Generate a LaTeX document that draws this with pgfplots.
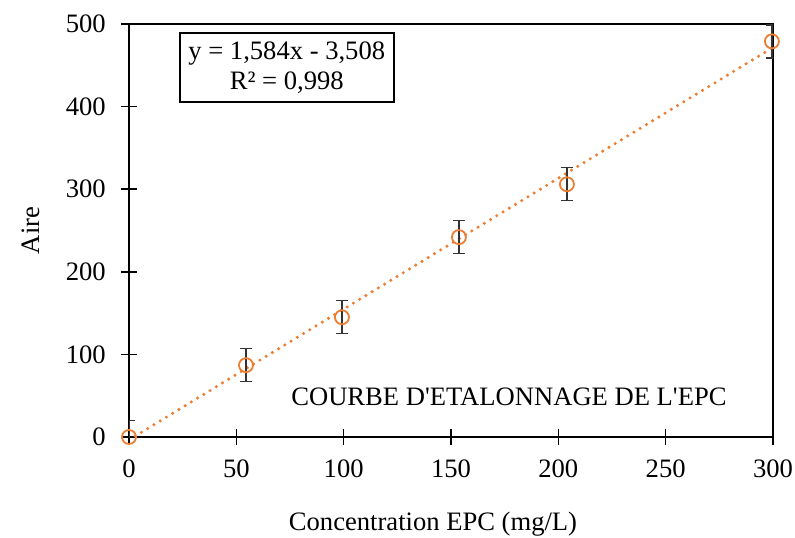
\documentclass[border=0pt]{standalone}
\usepackage{fontspec}
\setmainfont{Liberation Serif}
\usepackage{pgfplots}
\pgfplotsset{compat=1.18}
\definecolor{xlorange}{HTML}{ED7D31}
\begin{document}
\fontsize{13.3}{16}\selectfont
\begin{tikzpicture}
\path[use as bounding box] (-64.5pt,-50pt) rectangle (333pt,218.5pt);
\begin{axis}[
  at={(0pt,0pt)}, anchor=south west,
  scale only axis, width=322pt, height=206.5pt,
  xmin=0, xmax=300, ymin=0, ymax=500,
  xtick={0,50,...,300}, ytick={0,100,...,500},
  xtick pos=bottom, ytick pos=left,
  xtick align=center, ytick align=center, major tick length=8pt,
  tick style={black, line width=0.8pt},
  axis line style={black, line width=0.9pt},
  /pgf/number format/assume math mode=true,
  ticklabel style={font=\fontsize{13.3}{16}\selectfont},
  xticklabel style={yshift=-3pt},
  yticklabel style={xshift=-3pt},
  xlabel={Concentration EPC (mg/L)},
  ylabel={Aire},
  label style={font=\fontsize{13.3}{16}\selectfont},
  xlabel style={yshift=-8pt, xshift=-9pt},
  ylabel style={yshift=4pt},
  clip=true,
]
\addplot[xlorange, line width=1.7pt, line cap=round, dash pattern=on 0pt off 3.65pt, forget plot]
  coordinates {(0,-3.508) (300,471.692)};
\addplot[xlorange, only marks, mark=o, mark size=3.5pt, mark options={line width=0.9pt},
  error bars/.cd, y dir=both, y explicit,
  error bar style={black!80, line width=0.7pt},
  error mark options={rotate=90, mark size=3pt, black!80, line width=0.7pt}]
  coordinates {
    (0,0) +- (0,20)
    (54.5,87) +- (0,20)
    (99.2,145) +- (0,20)
    (153.7,242) +- (0,20)
    (204,306) +- (0,20)
    (299.5,479) +- (0,20)
  };
\node[draw=black, line width=0.8pt, fill=white, align=center, inner sep=2pt,
  minimum width=107pt, minimum height=34.5pt, font=\fontsize{13.3}{15}\selectfont]
  at (rel axis cs:0.245,0.895) {y = 1,584x - 3,508\\R² = 0,998};
\node[font=\fontsize{13.3}{16}\selectfont] at (rel axis cs:0.59,0.097) {COURBE D\textquotesingle ETALONNAGE DE L\textquotesingle EPC};
\end{axis}
\end{tikzpicture}
\end{document}
